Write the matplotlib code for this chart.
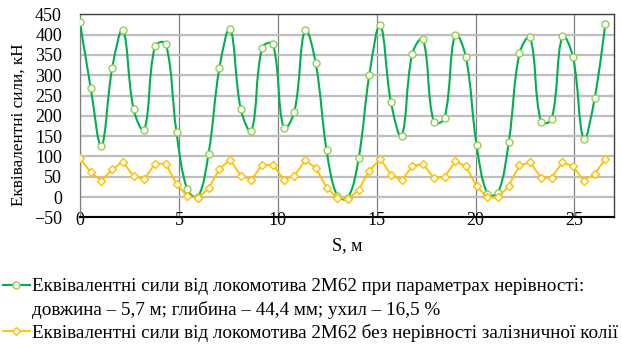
import numpy as np
import matplotlib
matplotlib.use('Agg')
import matplotlib.pyplot as plt
from matplotlib.path import Path
from matplotlib.patches import PathPatch
from matplotlib.lines import Line2D

plt.rcParams['font.family'] = ['Liberation Serif', 'DejaVu Serif']

# S, m
s_m = [0.00, 0.54, 1.08, 1.63, 2.17, 2.71, 3.25, 3.79, 4.34, 4.88,
       5.42, 5.96, 6.50, 7.05, 7.59, 8.13, 8.67, 9.21, 9.76, 10.30,
       10.84, 11.38, 11.92, 12.47, 13.01, 13.55, 14.09, 14.63, 15.18, 15.72,
       16.26, 16.80, 17.34, 17.89, 18.43, 18.97, 19.51, 20.05, 20.60, 21.14,
       21.68, 22.22, 22.76, 23.31, 23.85, 24.39, 24.93, 25.47, 26.02, 26.56]

# еквівалентні сили з нерівністю, кН
force_irreg = [430, 269, 126, 318, 412, 216, 165, 371, 378, 159,
               19, 0, 107, 318, 415, 216, 163, 368, 376, 170,
               210, 412, 329, 115, 2, -2, 96, 301, 424, 234,
               150, 353, 389, 184, 194, 400, 345, 129, 8, 11,
               136, 354, 393, 185, 192, 396, 344, 143, 243, 427]

# еквівалентні сили без нерівності, кН
force_plain = [95, 61, 40, 68, 87, 51, 44, 82, 82, 32,
               2, -3, 21, 69, 92, 52, 43, 79, 79, 43,
               52, 90, 72, 23, -2, -5, 18, 65, 94, 55,
               41, 76, 82, 47, 49, 88, 76, 26, -1, -1,
               28, 78, 85, 48, 48, 85, 76, 40, 57, 93]

label_irreg = 'Еквівалентні сили від локомотива 2М62 при параметрах нерівності:'
label_irreg2 = 'довжина – 5,7 м; глибина – 44,4 мм; ухил – 16,5 %'
label_plain = 'Еквівалентні сили від локомотива 2М62 без нерівності залізничної колії'

x_ticks = [0, 5, 10, 15, 20, 25]
y_ticks = list(range(-50, 451, 50))

green = '#00B050'
green_mk = '#92D050'
yellow = '#FFC000'


def smooth_path(ax, x, y, t=0.38):
    # згладжена лінія як в Excel: Безьє в екранних координатах,
    # дотичні масштабуються довжинами сусідніх відрізків
    pts = ax.transData.transform(np.column_stack([x, y]))
    n = len(pts)
    seg = np.hypot(*np.diff(pts, axis=0).T)
    c_out = pts.copy()
    c_in = pts.copy()
    for i in range(1, n - 1):
        d = pts[i + 1] - pts[i - 1]
        la, lb = seg[i - 1], seg[i]
        c_out[i] = pts[i] + d * lb / (la + lb) * t
        c_in[i] = pts[i] - d * la / (la + lb) * t
    verts = [pts[0]]
    codes = [Path.MOVETO]
    for i in range(n - 1):
        verts += [c_out[i], c_in[i + 1], pts[i + 1]]
        codes += [Path.CURVE4] * 3
    verts = ax.transData.inverted().transform(np.array(verts))
    return Path(verts, codes)


fig = plt.figure(figsize=(6.22, 3.45), dpi=100)
ax = fig.add_axes([80 / 622, 1 - 217.3 / 345, 534 / 622, 203 / 345])

ax.set_xlim(0, 27)
ax.set_ylim(-50, 450)

ax.add_patch(PathPatch(smooth_path(ax, s_m, force_irreg), fill=False,
                       edgecolor=green, lw=1.5, zorder=3))
ax.plot(s_m, force_irreg, ls='none', marker='o', ms=5, mfc='white',
        mec=green_mk, mew=1.0, zorder=4)
ax.plot(s_m, force_plain, color=yellow, lw=1.3, marker='D', ms=4.5,
        mfc='white', mec=yellow, mew=1.0, zorder=4)

ax.set_xticks(x_ticks)
ax.set_yticks(y_ticks)
ax.tick_params(length=0, labelsize=13)
ax.tick_params(axis='x', pad=-4)
ax.tick_params(axis='y', pad=13)

ax.grid(axis='y', color='#BFBFBF', lw=1.6, zorder=0)
ax.grid(axis='x', color='#808080', lw=0.9, zorder=0)
ax.set_axisbelow(True)

ax.spines['bottom'].set_color('black')
ax.spines['bottom'].set_linewidth(1.5)
ax.spines['left'].set_color('#808080')
ax.spines['left'].set_linewidth(0.9)
for side in ['top', 'right']:
    ax.spines[side].set_color('#404040')
    ax.spines[side].set_linewidth(1.0)

ax.set_ylabel('Еквівалентні сили, кН', fontsize=12.3)
ax.yaxis.label.set_va('center')
ax.yaxis.set_label_coords(-0.115, 0.455)
ax.set_xlabel('S, м', fontsize=13)
ax.xaxis.label.set_va('center')
ax.xaxis.set_label_coords(0.5, -0.141)

handles = [
    Line2D([], [], color=green, lw=1.5, marker='o', ms=5, mfc='white',
           mec=green_mk, mew=1.0),
    Line2D([], [], color='none'),
    Line2D([], [], color=yellow, lw=1.3, marker='D', ms=4.5, mfc='white',
           mec=yellow, mew=1.0),
]
fig.legend(handles, [label_irreg, label_irreg2, label_plain],
           loc='upper left', bbox_to_anchor=(3 / 622, 1 - 278 / 345),
           frameon=False, fontsize=13.8, handlelength=1.4, handletextpad=0.12,
           borderaxespad=0, borderpad=0, labelspacing=0.28)

fig.savefig('out.png', dpi=100)
